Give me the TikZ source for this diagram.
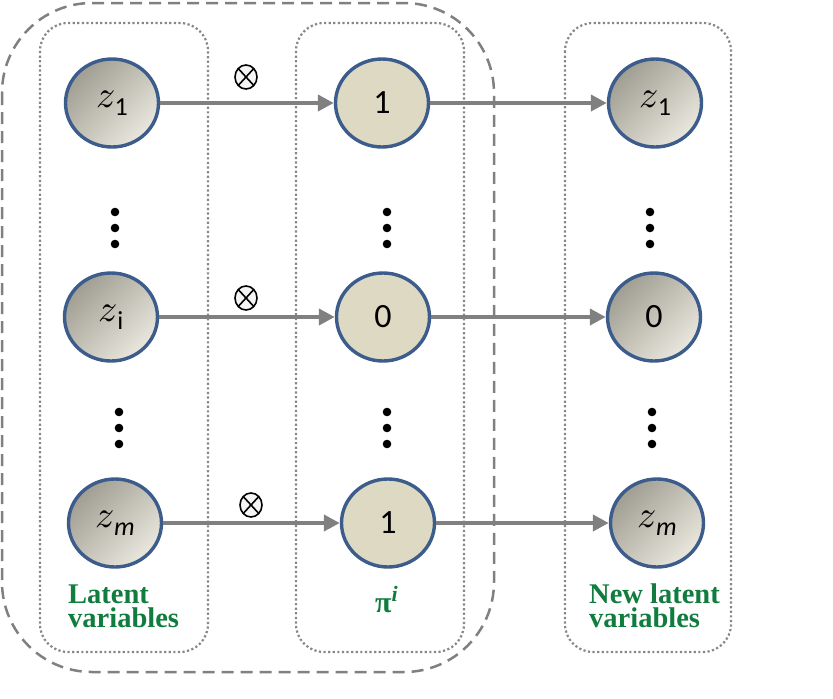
\documentclass[tikz,border=0pt]{standalone}
\usepackage{fontspec}
\setmainfont{Liberation Serif}
\newfontfamily\carl{Carlito}
\newfontfamily\lmm{Latin Modern Math}
\usetikzlibrary{shapes.geometric,arrows.meta}
\definecolor{lgreen}{RGB}{16,124,62}
\definecolor{nodeblue}{RGB}{60,92,140}
\definecolor{shadeA}{RGB}{160,158,146}
\definecolor{shadeB}{RGB}{234,232,222}
\definecolor{beige}{RGB}{221,217,195}
\definecolor{arrgray}{RGB}{128,128,128}
\definecolor{boxgray}{RGB}{135,135,135}
\newcommand\zsub[1]{{\fontsize{38}{38}\selectfont\lmm 𝑧}\kern1pt\raisebox{-8pt}{\fontsize{26}{26}\selectfont\carl #1}}
\begin{document}
\begin{tikzpicture}[x=1pt,y=-1pt,
  latent/.style={ellipse, draw=nodeblue, line width=3.4pt, minimum width=93pt, minimum height=88pt, inner sep=0pt,
    top color=shadeA, bottom color=shadeB, shading angle=45},
  pinode/.style={ellipse, draw=nodeblue, line width=3.4pt, minimum width=93pt, minimum height=88pt, inner sep=0pt, fill=beige,
    font=\fontsize{34}{34}\selectfont\carl},
  arr/.style={draw=arrgray, line width=4.5pt, -{Triangle[length=16pt,width=16pt]}},
  dotbox/.style={draw=boxgray, line width=2.2pt, dash pattern=on 2.2pt off 2.4pt, rounded corners=28pt},
  dashbox/.style={draw=arrgray, line width=2.5pt, dash pattern=on 12pt off 7pt, rounded corners=90pt},
  otimes/.style={ellipse, draw=black, line width=1.6pt, fill=gray!8, minimum width=22pt, minimum height=24pt, inner sep=0pt,
    path picture={\draw[line width=1.6pt] (path picture bounding box.north west) -- (path picture bounding box.south east)
      (path picture bounding box.north east) -- (path picture bounding box.south west);}},
  lab/.style={text=lgreen, font=\fontsize{28.5}{24}\selectfont\bfseries, align=left, inner sep=0pt},
  vdot/.style={fill=black}
]
\useasboundingbox (0,0) rectangle (833,699);

% boxes
\draw[dashbox] (2,3) rectangle (494,672);
\draw[dotbox] (40,23) rectangle (208,652);
\draw[dotbox] (296,23) rectangle (464,652);
\draw[dotbox] (565,23) rectangle (731,652);

% column 1
\node[latent] (a1) at (112,103) {\zsub{1}};
\node[latent] (a2) at (111,317) {\zsub{i}};
\node[latent] (a3) at (115,523) {\zsub{\itshape m}};
% column 2
\node[pinode] (b1) at (382,103) {1};
\node[pinode] (b2) at (383,317) {0};
\node[pinode] (b3) at (388,523) {1};
% column 3
\node[latent] (c1) at (655,103) {\zsub{1}};
\node[latent] (c2) at (654,317) {{\fontsize{34}{34}\selectfont\carl 0}};
\node[latent] (c3) at (657,523) {\zsub{\itshape m}};

% arrows
\draw[arr] (a1) -- (b1);
\draw[arr] (a2) -- (b2);
\draw[arr] (a3) -- (b3);
\draw[arr] (b1) -- (c1);
\draw[arr] (b2) -- (c2);
\draw[arr] (b3) -- (c3);

% otimes
\node[otimes] (o1) at (246,77) {};
\node[otimes] (o2) at (246,298) {};
\node[otimes] (o3) at (251,505) {};

% vertical dots
\foreach \x/\y in {115/212, 119/412, 387/212, 387/412, 650/212, 652/412}{
  \fill[vdot] (\x,\y) circle (4.3pt) (\x,\y+16) circle (4.3pt) (\x,\y+32) circle (4.3pt);
}

% labels
\node[lab, anchor=base west] (l1) at (68,627) {Latent\\variables};
\node[text=lgreen, anchor=base west, inner sep=0pt] (l2) at (375,612)
  {\fontsize{30}{30}\selectfont\bfseries π\raisebox{11pt}{\fontsize{22}{22}\selectfont\itshape i}};
\node[lab, anchor=base west] (l3) at (589,627) {New latent\\variables};
\end{tikzpicture}
\end{document}
